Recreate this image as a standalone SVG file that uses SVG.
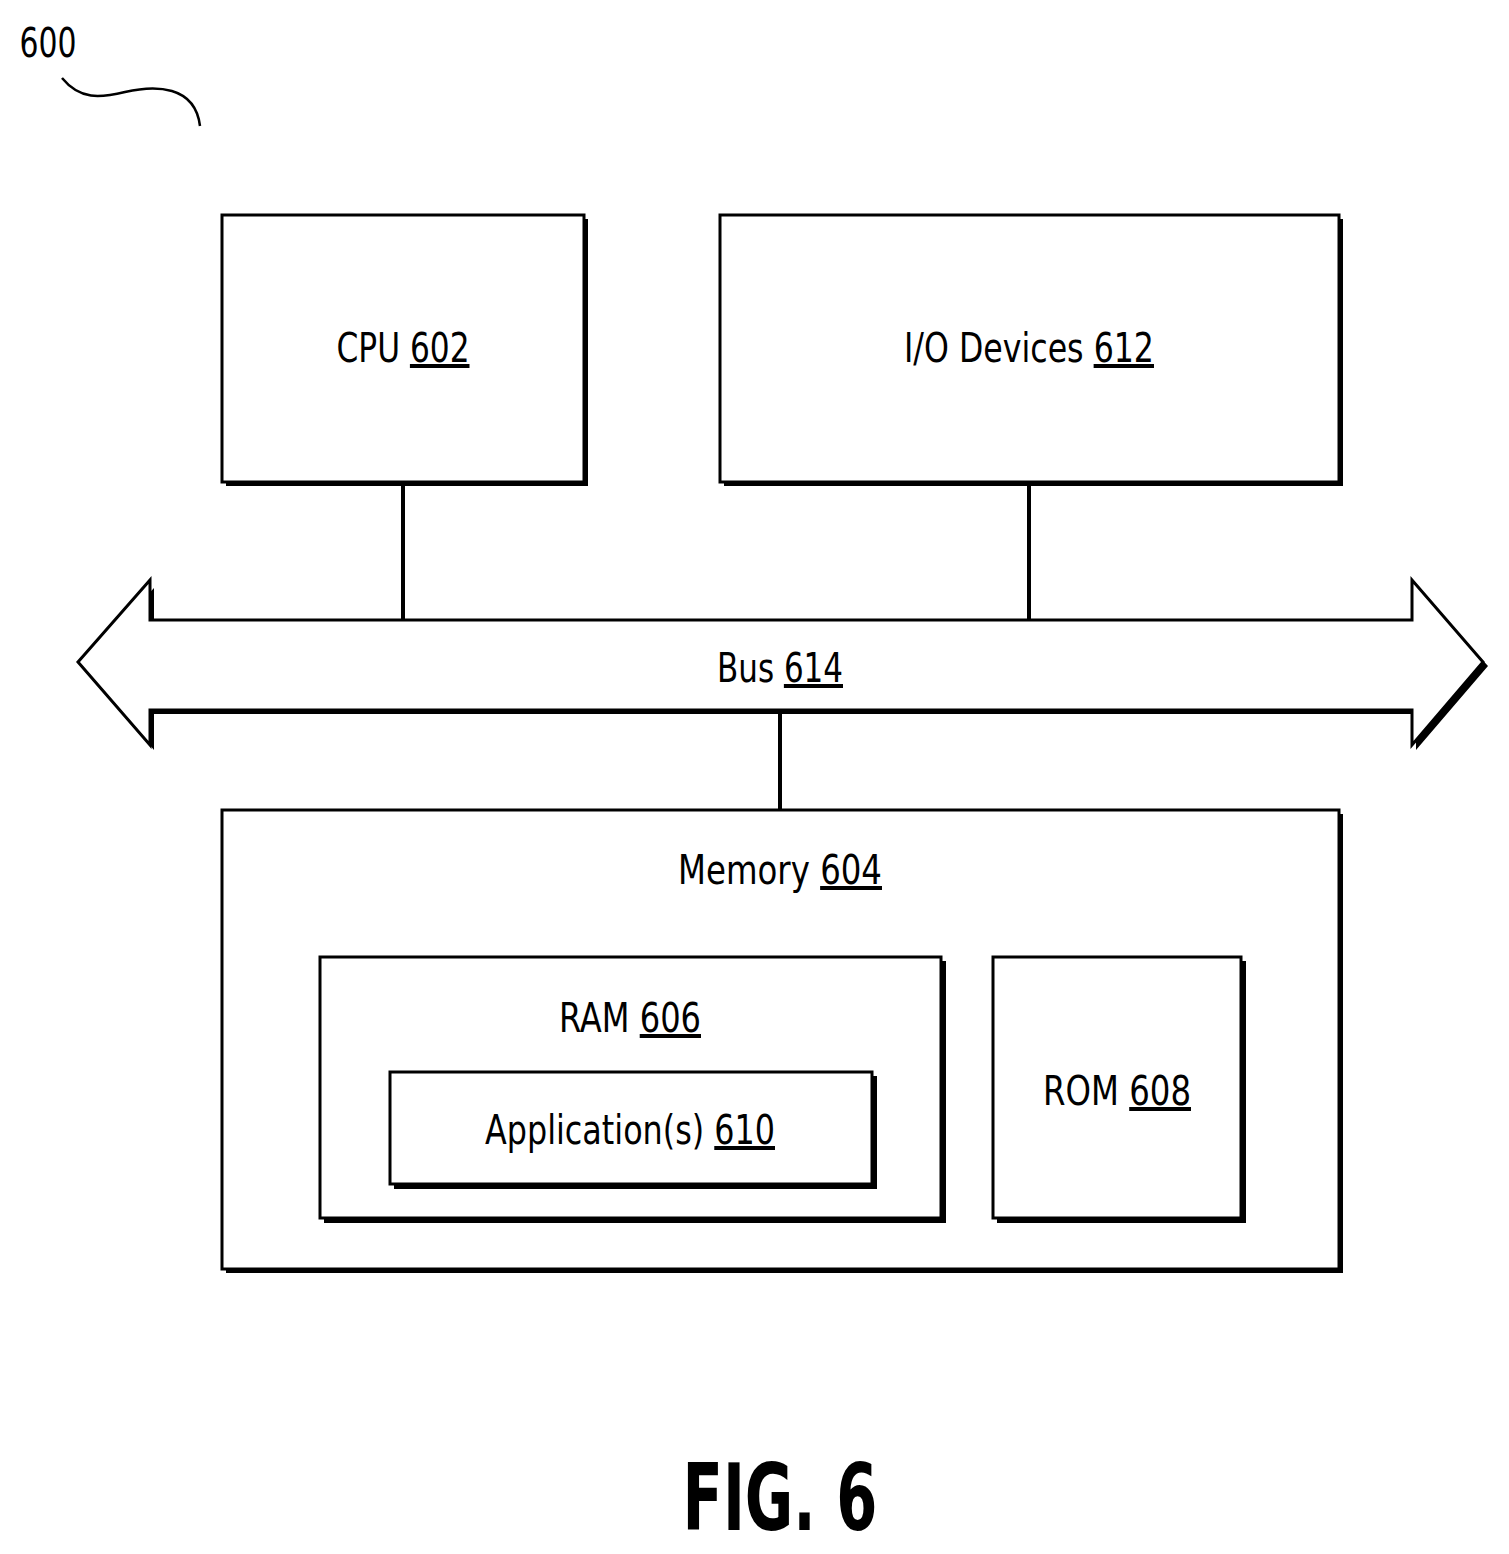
<svg xmlns="http://www.w3.org/2000/svg" width="1509" height="1554" viewBox="0 0 1509 1554">
<style>
.b{fill:#fff;stroke:#000;stroke-width:3}
.c{stroke:#000;stroke-width:4;fill:none}
text{font-family:"DejaVu Sans Condensed","DejaVu Sans",sans-serif;font-stretch:condensed;font-size:40px;fill:#000;text-anchor:middle}
.u{text-decoration:underline}
</style>
<rect width="1509" height="1554" fill="#fff"/>
<g id="label600"><text x="48" y="57" textLength="57" lengthAdjust="spacingAndGlyphs">600</text>
<path class="c" style="stroke-width:2.5" d="M62,78 C80,100 100,98 125,92 C155,85 195,85 200,126"/></g>
<g id="connectors">
<line class="c" x1="403" y1="483" x2="403" y2="620"/>
<line class="c" x1="1029" y1="483" x2="1029" y2="620"/>
<line class="c" x1="780" y1="710" x2="780" y2="810"/>
</g>
<g id="bus">
<polygon points="82,666 154,588 154,624 1416,624 1416,588 1488,666 1416,750 1416,714 154,714 154,750" fill="#000"/>
<polygon class="b" points="78,662 150,580 150,620 1412,620 1412,580 1483,662 1412,745 1412,710 150,710 150,745"/>
<text x="780" y="682" textLength="126" lengthAdjust="spacingAndGlyphs">Bus <tspan class="u">614</tspan></text>
</g>
<g id="cpu"><rect x="226" y="219" width="362" height="267" fill="#000"/><rect class="b" x="222" y="215" width="362" height="267"/>
<text x="403" y="362" textLength="133" lengthAdjust="spacingAndGlyphs">CPU <tspan class="u">602</tspan></text></g>
<g id="io"><rect x="724" y="219" width="619" height="267" fill="#000"/><rect class="b" x="720" y="215" width="619" height="267"/>
<text x="1029" y="362" textLength="250" lengthAdjust="spacingAndGlyphs">I/O Devices <tspan class="u">612</tspan></text></g>
<g id="memory"><rect x="226" y="814" width="1117" height="459" fill="#000"/><rect class="b" x="222" y="810" width="1117" height="459"/>
<text x="780" y="884" textLength="204" lengthAdjust="spacingAndGlyphs">Memory <tspan class="u">604</tspan></text></g>
<g id="ram"><rect x="324" y="961" width="622" height="262" fill="#000"/><rect class="b" x="320" y="957" width="621" height="261"/>
<text x="630" y="1032" textLength="142" lengthAdjust="spacingAndGlyphs">RAM <tspan class="u">606</tspan></text></g>
<g id="app"><rect x="394" y="1076" width="483" height="113" fill="#000"/><rect class="b" x="390" y="1072" width="482" height="112"/>
<text x="630" y="1144" textLength="290" lengthAdjust="spacingAndGlyphs">Application(s) <tspan class="u">610</tspan></text></g>
<g id="rom"><rect x="997" y="961" width="249" height="262" fill="#000"/><rect class="b" x="993" y="957" width="248" height="261"/>
<text x="1117" y="1105" textLength="148" lengthAdjust="spacingAndGlyphs">ROM <tspan class="u">608</tspan></text></g>
<text x="780" y="1530" style="font-size:92px;font-weight:bold" textLength="195" lengthAdjust="spacingAndGlyphs">FIG. 6</text>
</svg>
